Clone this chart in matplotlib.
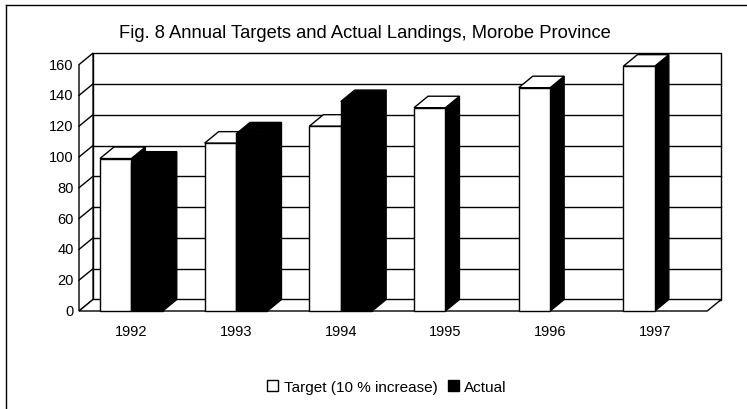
import numpy as np
import matplotlib.pyplot as plt
from matplotlib.patches import Polygon, Patch
from matplotlib.lines import Line2D

plt.rcParams['font.family'] = ['Liberation Sans', 'DejaVu Sans']

# data
years = ['1992', '1993', '1994', '1995', '1996', '1997']
target = [99, 109, 120, 132, 145, 159]
actual = [96, 115, 136, np.nan, np.nan, np.nan]
yticks = [0, 20, 40, 60, 80, 100, 120, 140, 160]

# layout in pixels (figure 747x410)
W, H = 747, 410
x_front0 = 79.0      # left edge of the floor front
cat_px = 104.7       # pixels per category
y_zero = 312.0       # pixel row of value 0 at the front
val_px = 1.54        # pixels per unit
ddx = 14.0 / cat_px  # depth offset (categories)
ddy = 11.5 / val_px  # depth offset (values)
bw = 0.30            # bar width
ymax = 160
n = len(years)
lw = 1.0

fig = plt.figure(figsize=(W / 100, H / 100), dpi=100)
ax = fig.add_axes([0, 0, 1, 1])
ax.set_xlim(-0.5 - x_front0 / cat_px, -0.5 + (W - x_front0) / cat_px)
ax.set_ylim(-(H - y_zero) / val_px, y_zero / val_px)
ax.axis('off')

xl, xr = -0.5, n - 0.5

def poly(pts, fc, z):
    ax.add_patch(Polygon(pts, closed=True, fc=fc, ec='black', lw=lw, zorder=z,
                         joinstyle='miter'))

# walls and floor
poly([(xl + ddx, ddy), (xr + ddx, ddy), (xr + ddx, ymax + ddy), (xl + ddx, ymax + ddy)], 'white', 1)
poly([(xl, 0), (xl + ddx, ddy), (xl + ddx, ymax + ddy), (xl, ymax)], 'white', 1)
poly([(xl, 0), (xr, 0), (xr + ddx, ddy), (xl + ddx, ddy)], 'white', 1)

for v in yticks[1:-1]:
    ax.plot([xl + ddx, xr + ddx], [v + ddy, v + ddy], color='black', lw=lw, zorder=2)
    ax.plot([xl, xl + ddx], [v, v + ddy], color='black', lw=lw, zorder=2)
for v in yticks:
    ax.text(xl - 0.05, v, str(v), ha='right', va='center', fontsize=10.5)

# 3d bars
def bar3d(x0, h, front, top, side, z):
    x1 = x0 + bw
    poly([(x1, 0), (x1 + ddx, ddy), (x1 + ddx, h + ddy), (x1, h)], side, z)
    poly([(x0, h), (x1, h), (x1 + ddx, h + ddy), (x0 + ddx, h + ddy)], top, z)
    poly([(x0, 0), (x1, 0), (x1, h), (x0, h)], front, z)

z = 3
for i in range(n):
    bar3d(i - bw, target[i], 'white', 'white', 'black', z)
    z += 1
    if not np.isnan(actual[i]):
        bar3d(i, actual[i], 'black', 'black', 'black', z)
        z += 1

for i, yr in enumerate(years):
    ax.text(i, -(332 - y_zero) / val_px, yr, ha='center', va='center', fontsize=10.5)

fig.text(365 / W, 1 - 33 / H, 'Fig. 8 Annual Targets and Actual Landings, Morobe Province',
         ha='center', va='center', fontsize=13.2)

handles = [Patch(fc='white', ec='black', lw=lw), Patch(fc='black', ec='black', lw=lw)]
fig.legend(handles, ['Target (10 % increase)', 'Actual'], loc='center',
           bbox_to_anchor=(387 / W, 1 - 388 / H), ncol=2, frameon=False,
           fontsize=11, handlelength=0.7, handleheight=0.7, handletextpad=0.35,
           columnspacing=0.7)

# outer frame
fig.add_artist(Line2D([6 / W, 1], [1 - 6 / H, 1 - 6 / H], color='black', lw=lw))
fig.add_artist(Line2D([6 / W, 6 / W], [0, 1 - 6 / H], color='black', lw=lw))

fig.savefig('out.png', dpi=100)
